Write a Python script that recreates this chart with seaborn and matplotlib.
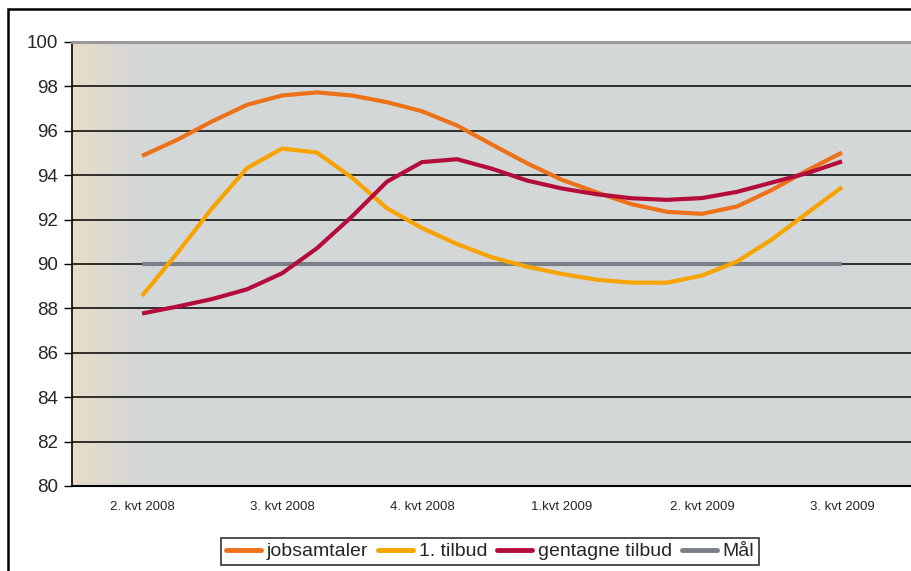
import numpy as np
import pandas as pd
import matplotlib
matplotlib.use('Agg')
import matplotlib.pyplot as plt
import seaborn as sns
from matplotlib.patches import Rectangle

# Values, 4 readings per quarter
quarters = ['2. kvt 2008', '3. kvt 2008', '4. kvt 2008', '1.kvt 2009', '2. kvt 2009', '3. kvt 2009']
pos = [i / 4 for i in range(21)]

jobsamtaler = [94.87, 95.59, 96.42, 97.17, 97.59, 97.73, 97.59, 97.29, 96.88, 96.24, 95.38,
               94.54, 93.79, 93.22, 92.69, 92.35, 92.26, 92.59, 93.34, 94.21, 95.02]
tilbud1 = [88.56, 90.48, 92.51, 94.32, 95.20, 95.02, 93.89, 92.51, 91.62, 90.90, 90.30,
           89.88, 89.55, 89.29, 89.16, 89.16, 89.48, 90.11, 91.11, 92.29, 93.46]
gentagne = [87.77, 88.08, 88.42, 88.86, 89.58, 90.71, 92.14, 93.71, 94.59, 94.72, 94.29,
            93.76, 93.40, 93.14, 92.96, 92.89, 92.97, 93.25, 93.67, 94.09, 94.62]
maal = [90] * 21

series_names = ['jobsamtaler', '1. tilbud', 'gentagne tilbud', 'Mål']
colors = ['#EC7118', '#F7A300', '#B50D3B', '#7A8085']
yticks = [80, 82, 84, 86, 88, 90, 92, 94, 96, 98, 100]

df = pd.concat([
    pd.DataFrame({'pos': pos, 'value': v, 'serie': n})
    for n, v in zip(series_names, [jobsamtaler, tilbud1, gentagne, maal])
])

sns.set_style('white')
plt.rcParams['font.family'] = ['Liberation Sans', 'DejaVu Sans']

fig = plt.figure(figsize=(9.11, 5.71), dpi=100)
ax = fig.add_axes([72 / 911, 1 - 486 / 571, 840 / 911, 444 / 571])
ax.set_facecolor('#D4D7D8')

# beige fade at the left side of the plot area
c0 = np.array(matplotlib.colors.to_rgb('#ECDDC4'))
c1 = np.array(matplotlib.colors.to_rgb('#D4D7D8'))
t = np.linspace(0, 1, 128)[None, :, None] ** 0.7
grad = c0 * (1 - t) + c1 * t
ax.imshow(grad, extent=(0, 0.085, 0, 1), transform=ax.transAxes, aspect='auto',
          interpolation='bilinear', zorder=0)

ax.hlines(yticks[1:-1], -0.5, 5.5, colors='black', linewidth=1.1, zorder=1)

sns.lineplot(data=df, x='pos', y='value', hue='serie', palette=colors, linewidth=3,
             ax=ax, legend=False, zorder=3, estimator=None)
# put Mål under the other lines
for ln, z in zip(ax.get_lines(), [4, 4, 4, 2]):
    ln.set_zorder(z)
    ln.set_solid_capstyle('butt')

ax.set_xlim(-0.5, 5.5)
ax.set_ylim(80, 100)
ax.set_yticks(yticks)
ax.set_yticklabels([str(v) for v in yticks], fontsize=13.5)
ax.set_xticks(np.arange(-0.5, 6, 1))
ax.set_xticklabels([])
ax.set_xticks(range(6), minor=True)
ax.set_xticklabels(quarters, minor=True, fontsize=9.5)
ax.tick_params(axis='x', which='major', length=5, width=1, color='black', direction='out')
ax.tick_params(axis='x', which='minor', length=0, pad=11)
ax.tick_params(axis='y', length=6, width=1, color='black', direction='out', pad=4, left=True)
ax.set_xlabel('')
ax.set_ylabel('')

ax.spines['top'].set_color('#9A9A9A')
ax.spines['top'].set_linewidth(2.2)
ax.spines['right'].set_visible(False)
ax.spines['left'].set_color('black')
ax.spines['left'].set_linewidth(1.2)
ax.spines['bottom'].set_color('black')
ax.spines['bottom'].set_linewidth(1.5)

handles = [plt.Line2D([], [], color=c, linewidth=3.5) for c in colors]
leg = fig.legend(handles, series_names, loc='center', bbox_to_anchor=(490 / 911, 1 - 551.5 / 571),
                 ncol=4, fontsize=14, frameon=True, fancybox=False, handlelength=1.8,
                 handletextpad=0.3, columnspacing=0.5, borderpad=0.25)
leg.get_frame().set_edgecolor('black')
leg.get_frame().set_linewidth(1.2)

# outer chart frame (cut off at the right and bottom)
fig.add_artist(Rectangle((8 / 911, -0.1), 1.2, 1.1 - 9 / 571, transform=fig.transFigure,
                         fill=False, edgecolor='black', linewidth=1.8))

fig.savefig('out.png', dpi=100)
